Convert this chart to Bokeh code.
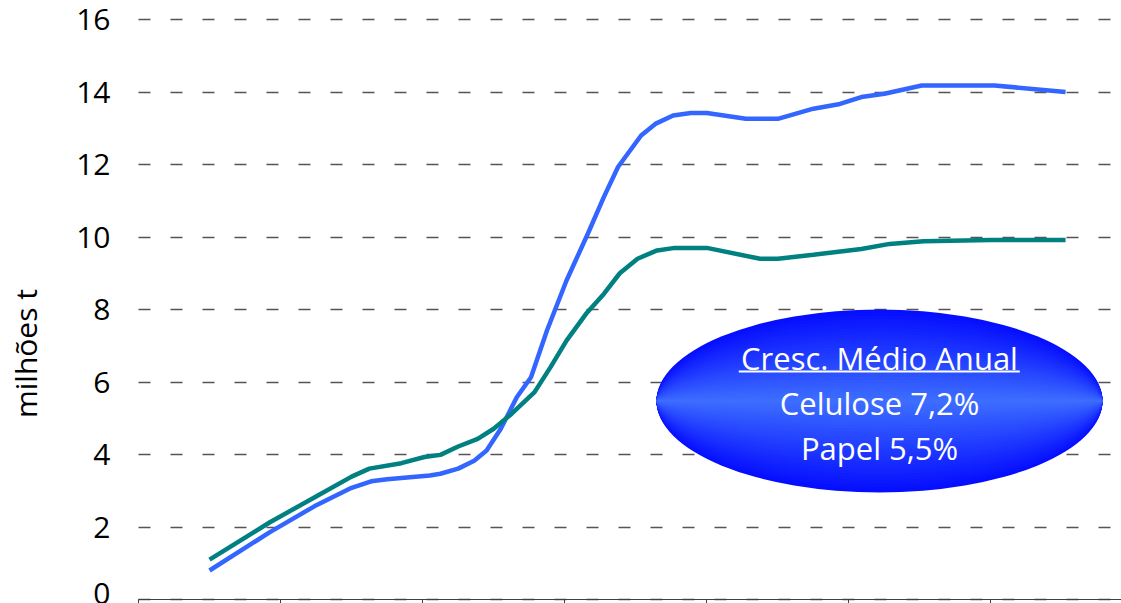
from math import pi
from bokeh.plotting import figure
from bokeh.models import FixedTicker, Range1d, Label
from bokeh.core.properties import value
from bokeh.embed import file_html
from bokeh.resources import INLINE

# ---- data ----
celulose_x = [4.0, 7.4, 9.9, 12.0, 13.1, 14.0, 16.4, 17.0, 18.0, 18.9, 19.6, 20.4,
              21.3, 22.1, 23.0, 24.1, 25.3, 26.2, 27.0, 28.3, 29.1, 30.1, 31.1,
              32.0, 34.2, 36.0, 38.0, 39.5, 40.7, 42.0, 44.1, 48.2, 52.2]
celulose = [0.80, 1.86, 2.57, 3.08, 3.26, 3.32, 3.42, 3.47, 3.61, 3.83, 4.11, 4.71,
            5.58, 6.13, 7.42, 8.80, 10.09, 11.10, 11.93, 12.80, 13.12, 13.35, 13.42,
            13.42, 13.26, 13.26, 13.54, 13.67, 13.86, 13.95, 14.18, 14.18, 14.00]

papel_x = [4.0, 7.4, 10.1, 12.0, 13.0, 14.8, 16.1, 17.0, 18.0, 19.1, 20.0, 21.0,
           22.3, 23.2, 24.1, 25.2, 26.2, 27.1, 28.1, 29.2, 30.2, 32.0, 35.0, 36.0,
           38.0, 40.7, 42.3, 44.2, 48.0, 52.2]
papel = [1.10, 2.13, 2.87, 3.39, 3.61, 3.76, 3.93, 3.99, 4.22, 4.43, 4.71, 5.12,
         5.72, 6.41, 7.14, 7.88, 8.43, 9.00, 9.40, 9.63, 9.70, 9.70, 9.40, 9.40,
         9.51, 9.67, 9.81, 9.88, 9.92, 9.92]

y_ticks = [0, 2, 4, 6, 8, 10, 12, 14, 16]
x_ticks = [0, 8, 16, 24, 32, 40, 48]
y_label = "milhões t"
summary_lines = ["Cresc. Médio Anual", "Celulose 7,2%", "Papel 5,5%"]

FONT = "Open Sans"
px_x = 17.76
px_y = 36.25
X0, Y0 = 138.0, 599.0     # screen position of (0, 0)
W_FIG, H_FIG = 1121, 603
x_end = (W_FIG - X0) / px_x

p = figure(width=W_FIG, height=H_FIG, output_backend="svg", toolbar_location=None,
           x_range=Range1d(-X0 / px_x, x_end),
           y_range=Range1d(-(H_FIG - Y0) / px_y, Y0 / px_y),
           min_border_left=0, min_border_right=0, min_border_top=0,
           min_border_bottom=0)
p.outline_line_color = None
p.background_fill_color = "white"
p.border_fill_color = "white"

# grid
p.xgrid.visible = False
p.ygrid.grid_line_dash = "12 20"
p.ygrid.grid_line_color = "#555555"
p.ygrid.grid_line_width = 1.3
grid_clipped = True
try:
    p.ygrid.cross_bounds = (0, x_end)
except Exception:
    grid_clipped = False

# y axis, placed at x = 0 inside the frame
p.yaxis.fixed_location = 0
p.yaxis.ticker = FixedTicker(ticks=y_ticks)
p.yaxis.axis_line_color = None
p.yaxis.major_tick_line_color = None
p.yaxis.minor_tick_line_color = None
p.yaxis.major_tick_out = 0
p.yaxis.major_tick_in = 0
p.yaxis.major_label_standoff = 28
p.yaxis.major_label_text_font = FONT
p.yaxis.major_label_text_font_size = "30px"
p.yaxis.major_label_text_color = "black"

# x axis at y = 0 (its labels are not visible in the reference)
p.xaxis.fixed_location = 0
p.xaxis.bounds = (0, x_end)
p.xaxis.ticker = FixedTicker(ticks=x_ticks)
p.xaxis.minor_tick_line_color = None
p.xaxis.major_tick_in = 0
p.xaxis.major_tick_out = 10
p.xaxis.axis_line_color = "#404040"
p.xaxis.major_tick_line_color = "#404040"
p.xaxis.major_label_overrides = {t: "" for t in x_ticks}

if not grid_clipped:
    p.quad(left=-X0 / px_x, right=0, bottom=-1, top=20, fill_color="white",
           line_color=None)

# series
p.line(celulose_x, celulose, line_color="#3366FF", line_width=4.5)
p.line(papel_x, papel, line_color="#008080", line_width=4.5)

# gradient ellipse (stacked ellipses)
def dx(sx):
    return (sx - X0) / px_x

def dy(sy):
    return (Y0 - sy) / px_y

cx, cy = dx(879), dy(400.5)
W, H = 446 / px_x, 183 / px_y
edge = (6, 14, 255)
mid = (62, 112, 255)
N = 30
for k in range(N):
    t = 1 - k / N
    col = "#%02x%02x%02x" % tuple(int(round(m + (e - m) * t)) for e, m in zip(edge, mid))
    p.ellipse(x=cx, y=cy, width=W, height=H * t, fill_color=col, line_color=None)

mid_px = [357.0, 402.0, 447.0]
p.text(x=[cx] * 3, y=[dy(m) for m in mid_px], text=summary_lines,
       text_font=value(FONT), text_font_size="31px", text_color="white",
       text_align="center", text_baseline="middle")
p.segment(x0=[dx(738.3)], y0=[dy(371.0)], x1=[dx(1019.3)], y1=[dy(371.0)],
          line_color="white", line_width=2)

# y axis title
p.add_layout(Label(x=dx(25), y=dy(353), text=y_label, angle=pi / 2,
                   text_align="center", text_baseline="middle",
                   text_font=FONT, text_font_size="30px", text_color="black"))

open("out.html", "w").write(file_html(p, INLINE))
